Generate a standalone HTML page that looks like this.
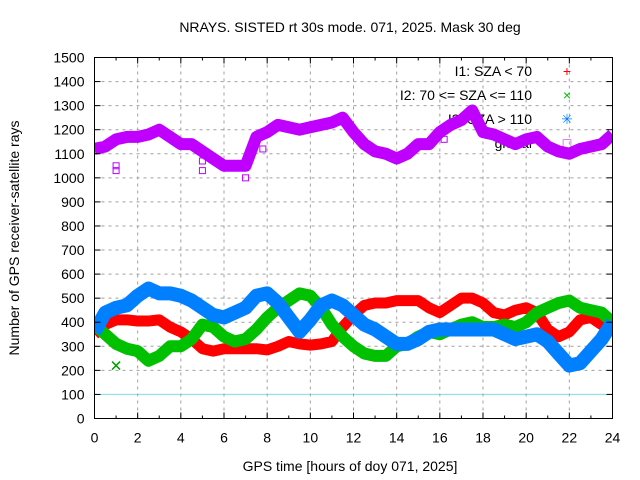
<!DOCTYPE html>
<html><head><meta charset="utf-8"><style>
body{margin:0;background:#fff}
svg{display:block;font-family:"Liberation Sans",sans-serif;font-size:14px}
</style></head><body>
<svg id="c" width="640" height="480" xmlns="http://www.w3.org/2000/svg">
<defs><clipPath id="pc"><rect x="94.5" y="57.5" width="518" height="361"/></clipPath></defs>
<text x="350" y="32" text-anchor="middle">NRAYS. SISTED rt 30s mode. 071, 2025. Mask 30 deg</text>
<text x="350" y="471" text-anchor="middle">GPS time [hours of doy 071, 2025]</text>
<text transform="translate(19,238) rotate(-90)" text-anchor="middle">Number of GPS receiver-satellite rays</text>
<g id="grid"></g><g id="legend"></g><g id="series" clip-path="url(#pc)"></g><g id="axes"></g>
</svg>
<script>
const hours=[0,0.5,1,1.5,2,2.5,3,3.5,4,4.5,5,5.5,6,6.5,7,7.5,8,8.5,9,9.5,10,10.5,11,11.5,12,12.5,13,13.5,14,14.5,15,15.5,16,16.5,17,17.5,18,18.5,19,19.5,20,20.5,21,21.5,22,22.5,23,23.5,24];
const i1=[350,390,410,410,405,405,410,380,360,330,290,280,290,290,290,290,285,300,320,310,305,310,320,380,430,470,480,480,490,490,490,460,440,470,500,500,480,440,430,450,460,440,370,340,360,410,420,390,380];
const i2=[390,350,310,290,280,240,260,300,300,330,390,380,340,320,330,370,420,460,490,520,510,460,390,340,300,270,260,260,300,310,340,360,350,370,390,400,380,380,390,380,400,440,460,480,490,460,450,440,400];
const i3=[360,440,460,470,510,540,520,520,510,490,460,430,420,440,460,510,520,480,420,360,410,470,490,470,430,390,370,340,310,310,330,360,370,370,370,370,370,370,350,330,340,350,320,270,220,230,280,330,400];
const glob=[1120,1130,1160,1170,1170,1180,1200,1170,1140,1140,1110,1080,1050,1050,1050,1170,1190,1220,1210,1200,1210,1220,1230,1250,1190,1140,1110,1100,1080,1100,1140,1140,1190,1220,1240,1280,1190,1180,1160,1140,1160,1170,1130,1110,1100,1120,1130,1140,1180];
const globOutHours=[1,1,5,5,7,7.8,16.2];
const globOutVals=[1030,1050,1030,1070,1000,1120,1160];
const i2OutHours=[1];
const i2OutVals=[220];
const yTicks=[0,100,200,300,400,500,600,700,800,900,1000,1100,1200,1300,1400,1500];
const xTicks=[0,2,4,6,8,10,12,14,16,18,20,22,24];
const legendLabels=["I1: SZA < 70","I2: 70 <= SZA <= 110","I3: SZA > 110","global"];
const L=94.5,R=612.5,T=57.5,B=418.5;
const sx=h=>L+(h/24)*(R-L);
const sy=v=>B-(v/1500)*(B-T);
const NS="http://www.w3.org/2000/svg";
function mk(tag,attrs,parent){const e=document.createElementNS(NS,tag);for(const k in attrs)e.setAttribute(k,attrs[k]);parent.appendChild(e);return e;}
const grid=document.getElementById('grid'),axes=document.getElementById('axes'),ser=document.getElementById('series'),leg=document.getElementById('legend');
yTicks.forEach(v=>{
  const y=sy(v);
  if(v>0&&v<1500){const g=mk('line',{x1:L,x2:R,y1:y,y2:y,stroke:v===100?'#7fdede':'#a0a0a0','stroke-dasharray':v===100?'':'3,4','stroke-width':1},grid);
  
  }
  const t=mk('text',{x:L-10,y:y+5,'text-anchor':'end'},axes);t.textContent=v;
  
  
  mk('line',{x1:L,x2:L+6,y1:y,y2:y,stroke:'#000'},axes);
  mk('line',{x1:R,x2:R-6,y1:y,y2:y,stroke:'#000'},axes);
});
xTicks.forEach(h=>{
  const x=sx(h);
  if(h>0&&h<24){const g=mk('line',{x1:x,x2:x,y1:T,y2:B,stroke:'#a0a0a0','stroke-dasharray':'3,4'},grid);
  
  }
  const t=mk('text',{x:x,y:B+24,'text-anchor':'middle'},axes);t.textContent=h;
  
  
  mk('line',{x1:x,x2:x,y1:B,y2:B-6,stroke:'#000'},axes);
  mk('line',{x1:x,x2:x,y1:T,y2:T+6,stroke:'#000'},axes);
  if(h<24){const m=sx(h+1);mk('line',{x1:m,x2:m,y1:B,y2:B-3,stroke:'#000'},axes);mk('line',{x1:m,x2:m,y1:T,y2:T+3,stroke:'#000'},axes);}
});
const fr=mk('rect',{x:L,y:T,width:R-L,height:B-T,fill:'none',stroke:'#000'},axes);


const defs=[[glob,'#c000ff','series-global',12],[i1,'#ff0000','series-i1',11],[i2,'#00c000','series-i2',12],[i3,'#0080ff','series-i3',14]];
defs.forEach(([d,c,n,w])=>{
  const p=mk('polyline',{points:d.map((v,i)=>sx(hours[i])+','+sy(v)).join(' '),fill:'none',stroke:c,'stroke-width':w,'stroke-linejoin':'round','stroke-linecap':'butt'},ser);
  
  
});
globOutVals.forEach((v,i)=>{
  const r=mk('rect',{x:sx(globOutHours[i])-3,y:sy(v)-3,width:6,height:6,fill:'none',stroke:'#c000ff'},ser);
  
  
});
i2OutVals.forEach((v,i)=>{
  const x=sx(i2OutHours[i]),y=sy(v);
  const p=mk('path',{d:`M${x-4},${y-4}L${x+4},${y+4}M${x-4},${y+4}L${x+4},${y-4}`,stroke:'#00a000','stroke-width':1.5},ser);
  
  
});
const colors=['#ff0000','#00c000','#0080ff','#c000ff'];
const syms=['+','×','✳','□'];
legendLabels.forEach((l,i)=>{
  const y=76+i*24;
  const t=mk('text',{x:532,y:y,'text-anchor':'end'},leg);t.textContent=l;
  
  
  const s=mk('text',{x:567,y:y,'text-anchor':'middle',fill:colors[i],'font-size':'14px'},leg);s.textContent=syms[i];
  
  
});
</script>
</body></html>
